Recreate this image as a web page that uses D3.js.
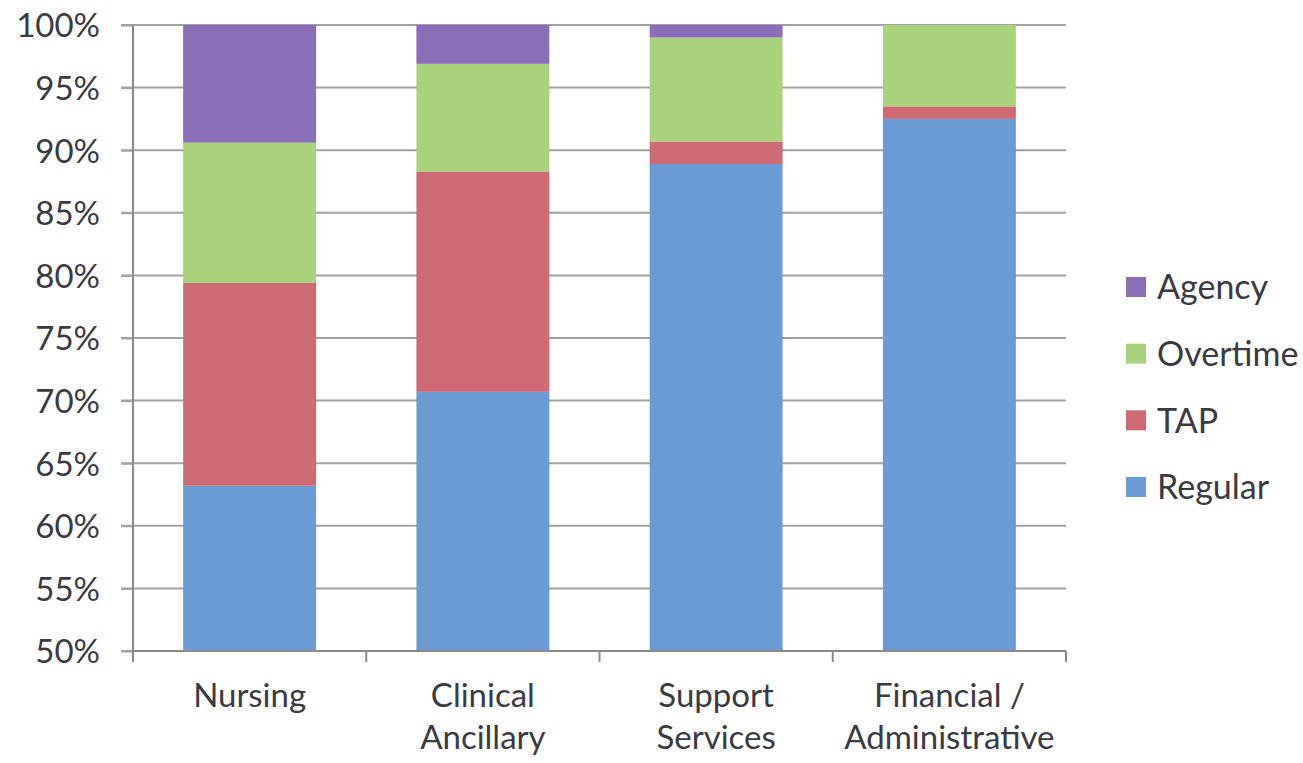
<!DOCTYPE html>
<html>
<head>
<meta charset="utf-8">
<script src="https://cdn.jsdelivr.net/npm/d3@7"></script>
<style>
  html, body { margin: 0; padding: 0; background: #ffffff; }
  svg { display: block; font-family: Lato, "Open Sans", sans-serif; }
</style>
</head>
<body>
<svg id="chart" width="1303" height="763"></svg>
<script>
// Staff hours mix by department (percent of total)
const categories = ["Nursing", "Clinical Ancillary", "Support Services", "Financial / Administrative"];
const categoryLines = [["Nursing"], ["Clinical", "Ancillary"], ["Support", "Services"], ["Financial /", "Administrative"]];
const regular  = [63.2, 70.7, 88.9, 92.5];
const tap      = [16.2, 17.6, 1.8, 1.0];
const overtime = [11.2, 8.6, 8.3, 6.5];
const agency   = [9.4, 3.1, 1.0, 0.0];
const seriesNames = ["Regular", "TAP", "Overtime", "Agency"];
const yTicks = [50, 55, 60, 65, 70, 75, 80, 85, 90, 95, 100];

const colors = {
  Regular:  "#6a9bd4",
  TAP:      "#cd6a73",
  Overtime: "#a8d27c",
  Agency:   "#8a6eb8"
};
const textColor = "#3a3a42";
const gridColor = "#a2a2a2";
const fontStack = "Lato, 'Open Sans', sans-serif";

const rows = categories.map((c, i) => ({
  category: c,
  Regular: regular[i], TAP: tap[i], Overtime: overtime[i], Agency: agency[i]
}));

const svg = d3.select("#chart");
const plot = { left: 133, right: 1066, top: 25, bottom: 651 };

const x = d3.scaleBand()
  .domain(categories)
  .range([plot.left, plot.right])
  .paddingInner(0.43)
  .paddingOuter(0.215);

const y = d3.scaleLinear()
  .domain([50, 100])
  .range([plot.bottom, plot.top])
  .clamp(true);

// Horizontal gridlines, extending out past the axis as tick marks
svg.append("g")
  .selectAll("line")
  .data(yTicks)
  .join("line")
  .attr("x1", plot.left - 12)
  .attr("x2", plot.right)
  .attr("y1", d => y(d))
  .attr("y2", d => y(d))
  .attr("stroke", gridColor)
  .attr("stroke-width", 2);

// Stacked bars
const stacked = d3.stack().keys(seriesNames)(rows);
svg.append("g")
  .selectAll("g")
  .data(stacked)
  .join("g")
  .attr("fill", d => colors[d.key])
  .selectAll("rect")
  .data(d => d)
  .join("rect")
  .attr("x", d => x(d.data.category))
  .attr("width", x.bandwidth())
  .attr("y", d => y(d[1]))
  .attr("height", d => Math.max(0, y(d[0]) - y(d[1])));

// Y axis
const yAxis = d3.axisLeft(y)
  .tickValues(yTicks)
  .tickSize(12)
  .tickPadding(21)
  .tickFormat(d => d + "%");
const gy = svg.append("g")
  .attr("transform", `translate(${plot.left},0)`)
  .call(yAxis)
  .attr("font-family", fontStack)
  .attr("font-size", 33);
gy.select(".domain").remove();
gy.selectAll(".tick line").attr("stroke", gridColor).attr("stroke-width", 2);
gy.selectAll(".tick text")
  .attr("fill", textColor)
  .attr("dy", "0.36em");
gy.append("line")
  .attr("x1", 0).attr("x2", 0)
  .attr("y1", plot.top).attr("y2", plot.bottom + 11)
  .attr("stroke", "#8a8a8a").attr("stroke-width", 2);

// X axis baseline with boundary ticks between categories
svg.append("line")
  .attr("x1", plot.left).attr("x2", plot.right)
  .attr("y1", plot.bottom).attr("y2", plot.bottom)
  .attr("stroke", "#8a8a8a").attr("stroke-width", 2);
svg.append("g")
  .selectAll("line")
  .data(d3.range(1, categories.length + 1))
  .join("line")
  .attr("x1", i => plot.left + (plot.right - plot.left) * i / categories.length)
  .attr("x2", i => plot.left + (plot.right - plot.left) * i / categories.length)
  .attr("y1", plot.bottom)
  .attr("y2", plot.bottom + 11)
  .attr("stroke", "#8a8a8a").attr("stroke-width", 2);

// Category labels (wrapped onto two lines where needed)
const labels = svg.append("g")
  .selectAll("text")
  .data(categories)
  .join("text")
  .attr("x", d => x(d) + x.bandwidth() / 2)
  .attr("y", 707)
  .attr("text-anchor", "middle")
  .attr("fill", textColor)
  .style("font-size", "33px");
labels.each(function(d, i) {
  d3.select(this).selectAll("tspan")
    .data(categoryLines[i])
    .join("tspan")
    .attr("x", x(d) + x.bandwidth() / 2)
    .attr("dy", (t, j) => j === 0 ? 0 : 42)
    .text(t => t);
});

// Legend, top entry is the top of the stack
const legendOrder = seriesNames.slice().reverse();
const ly = d3.scalePoint().domain(legendOrder).range([287, 487]);
const legend = svg.append("g")
  .selectAll("g")
  .data(legendOrder)
  .join("g")
  .attr("transform", d => `translate(1126,${ly(d)})`);
legend.append("rect")
  .attr("x", 0).attr("y", -10)
  .attr("width", 20).attr("height", 20)
  .attr("fill", d => colors[d]);
legend.append("text")
  .attr("x", 31)
  .attr("dy", "0.36em")
  .attr("fill", textColor)
  .style("font-size", "34px")
  .text(d => d);
</script>
</body>
</html>
